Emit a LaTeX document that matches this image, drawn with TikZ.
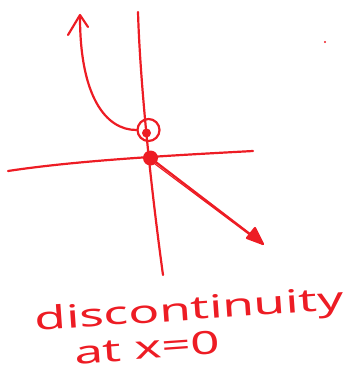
\documentclass[tikz,border=0pt]{standalone}
\usepackage{fontspec}
\setmainfont{Noto Sans}
\definecolor{penred}{RGB}{237,28,36}
\tikzset{
  pen/.style={draw=penred, line width=2.2pt, line cap=round, line join=round},
  handtext/.style={text=penred, inner sep=0pt, anchor=base, font=\fontsize{32}{32}\selectfont}
}
\begin{document}
\begin{tikzpicture}[x=1pt, y=-1pt]
  \useasboundingbox (0,0) rectangle (344,375);
  % axes
  \draw[pen] (138,12) .. controls (140,80) and (150,180) .. (163,275);
  \draw[pen] (8,171) .. controls (80,160) and (180,155) .. (253,151);
  % left branch, open end at x=0
  \node[circle, draw=penred, line width=2.2pt, minimum size=22pt, inner sep=0pt] (hole) at (148.5,130) {};
  \fill[penred] (146.5,133) circle (4.5);
  \draw[pen] (hole.west) .. controls (105,130) and (80,95) .. (80,17);
  \draw[pen] (68,35) -- (80,15) -- (88,27);
  % right branch, closed end at x=0
  \node[circle, fill=penred, minimum size=15pt, inner sep=0pt] (solid) at (150.5,158) {};
  \coordinate (tip) at (263,244);
  \draw[pen] (solid.center) -- (tip);
  \draw[pen, line width=1.2pt] (155,164) -- (258,241);
  \filldraw[pen, fill=penred] (247,238) -- (tip) -- (255,228) -- cycle;
  \fill[penred] (325,42) circle (1.2);
  % label
  \node[handtext, rotate=4, xscale=1.6] (word) at (190,320) {discontinuity};
  \node[handtext, rotate=4, xscale=1.6] (where) at (148,359) {at x=0};
\end{tikzpicture}
\end{document}
